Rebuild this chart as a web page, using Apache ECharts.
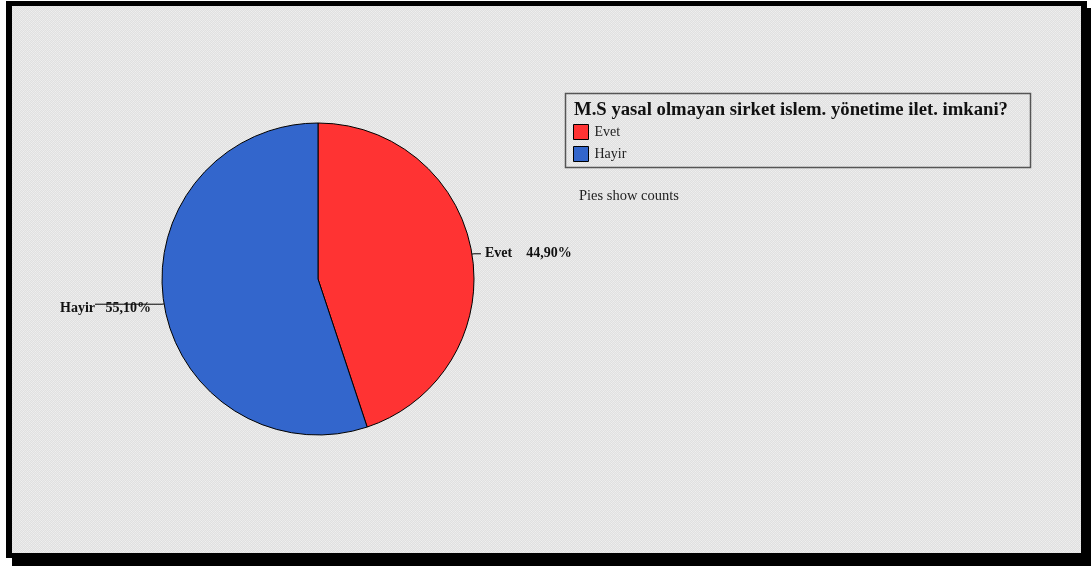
<!DOCTYPE html>
<html>
<head>
<meta charset="utf-8">
<style>
  html, body { margin: 0; padding: 0; background: #fff; }
  #chart { width: 1091px; height: 566px; }
</style>
<script src="https://cdn.jsdelivr.net/npm/echarts@6/dist/echarts.min.js"></script>
</head>
<body>
<div id="chart"></div>
<script>
// Answer categories and respondent counts
const categories = ['Evet', 'Hayir'];
const counts = [22, 27];
const sliceColors = ['#ff3333', '#3366cc'];
const legendTitle = 'M.S yasal olmayan sirket islem. yönetime ilet. imkani?';
const footnote = 'Pies show counts';

const serif = '"Liberation Serif", "Times New Roman", serif';

function pctText(p) {
  return p.toFixed(2).replace('.', ',') + '%';
}

// fine dotted texture for the panel background
function makeTexture() {
  const c = document.createElement('canvas');
  c.width = 4; c.height = 4;
  const ctx = c.getContext('2d');
  ctx.fillStyle = '#e0e0e0';
  ctx.fillRect(0, 0, 4, 4);
  ctx.fillStyle = '#ebebeb';
  for (let y = 0; y < 4; y++) {
    for (let x = 0; x < 4; x++) {
      if ((x + y) % 2 === 0) ctx.fillRect(x, y, 1, 1);
    }
  }
  ctx.fillStyle = '#f0f0f0';
  ctx.fillRect(1, 1, 1, 1);
  ctx.fillRect(3, 3, 1, 1);
  return c;
}

const pieData = categories.map((name, i) => ({
  name: name,
  value: counts[i],
  itemStyle: { color: sliceColors[i] },
  label: i === 0
    ? { distanceToLabelLine: 4 }
    : { distanceToLabelLine: -56 },
  labelLine: i === 0
    ? { length: 2, length2: 7 }
    : { length: 2, length2: 67 }
}));

const chart = echarts.init(document.getElementById('chart'), null, { renderer: 'canvas' });

chart.setOption({
  backgroundColor: '#ffffff',
  animation: false,
  graphic: [
    // framed panel with drop shadow
    { type: 'rect', z: -3, shape: { x: 12, y: 8, width: 1079, height: 558 }, style: { fill: '#000' } },
    { type: 'rect', z: -2, shape: { x: 6, y: 1, width: 1081, height: 557 }, style: { fill: '#000' } },
    { type: 'rect', z: -1, shape: { x: 12, y: 6, width: 1069, height: 547 },
      style: { fill: { image: makeTexture(), repeat: 'repeat' } } },
    // legend box
    { type: 'rect', z: 0, shape: { x: 565.5, y: 93.5, width: 465, height: 74 },
      style: { fill: 'none', stroke: '#555', lineWidth: 1.5 } },
    { type: 'text', z: 1, left: 574, top: 101,
      style: { text: legendTitle, font: 'bold 18.7px ' + serif, fill: '#111' } },
    { type: 'text', z: 1, left: 579, top: 189,
      style: { text: footnote, font: '14.5px ' + serif, fill: '#222' } }
  ],
  legend: {
    orient: 'vertical',
    left: 573,
    top: 124,
    padding: 0,
    itemWidth: 15,
    itemHeight: 15,
    itemGap: 6,
    icon: 'rect',
    itemStyle: { borderColor: '#000', borderWidth: 1 },
    textStyle: { fontFamily: serif, fontSize: 14, color: '#222', padding: [0, 0, 0, 1] },
    data: categories
  },
  series: [{
    type: 'pie',
    center: [318, 279],
    radius: 156,
    startAngle: 90,
    clockwise: true,
    avoidLabelOverlap: false,
    itemStyle: { borderColor: '#000', borderWidth: 1 },
    emphasis: { disabled: true },
    label: {
      show: true,
      position: 'outside',
      fontFamily: serif,
      fontSize: 14,
      fontWeight: 'bold',
      color: '#111',
      formatter: p => p.dataIndex === 0
        ? p.name + '    ' + pctText(p.percent)
        : '{low|' + p.name + '   ' + pctText(p.percent) + '}',
      rich: {
        low: {
          fontFamily: serif,
          fontSize: 14,
          fontWeight: 'bold',
          color: '#111',
          padding: [9, 0, 0, 0]
        }
      }
    },
    labelLine: { show: true, lineStyle: { color: '#000', width: 1 } },
    data: pieData
  }]
});
</script>
</body>
</html>
